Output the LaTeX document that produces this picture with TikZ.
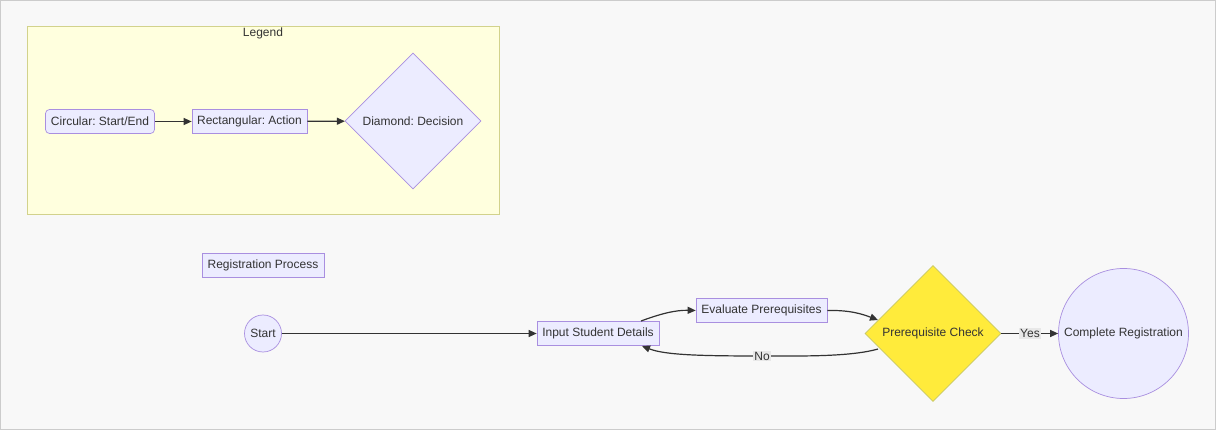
\documentclass[tikz,border=0pt]{standalone}
\usepackage{fontspec}
\setmainfont{Liberation Sans}
\frenchspacing
\usetikzlibrary{shapes.geometric,arrows.meta}
\definecolor{nodefill}{HTML}{ECECFF}
\definecolor{nodeline}{HTML}{A98FE0}
\definecolor{edgecol}{HTML}{333333}
\definecolor{legfill}{HTML}{FFFFDE}
\definecolor{legline}{HTML}{D2D28C}
\definecolor{bgfill}{HTML}{F8F8F8}
\definecolor{bgline}{HTML}{CCCCCC}
\definecolor{decfill}{HTML}{FFEB3B}
\definecolor{decline}{HTML}{C8C864}
\definecolor{lblbg}{HTML}{E8E8E8}
\definecolor{txt}{HTML}{333333}
\tikzset{
  x=1pt,y=-1pt,
  base/.style={font=\fontsize{12}{14}\selectfont, text=txt, draw=nodeline, fill=nodefill, line width=0.7pt, inner sep=0pt},
  rectbox/.style={base, rectangle, minimum height=24pt},
  roundbox/.style={base, rectangle, rounded corners=4pt, minimum height=24pt},
  circbox/.style={base, circle},
  diabox/.style={base, diamond, aspect=1},
  conn/.style={draw=edgecol, line width=1.2pt, -{Triangle[length=8pt,width=7pt]}},
  lbl/.style={font=\fontsize{12}{14}\selectfont, text=txt, fill=lblbg, inner sep=1pt}
}
\begin{document}
\begin{tikzpicture}
\useasboundingbox (0,0) rectangle (1216,430);
\fill[bgfill, draw=bgline, line width=0.8pt] (0.5,0.5) rectangle (1215.5,429.5);
% legend
\draw[fill=legfill, draw=legline, line width=1pt] (27,27) rectangle (499,215);
\node[font=\fontsize{12}{14}\selectfont, text=txt] (legtitle) at (263,33) {Legend};
\node[roundbox, minimum width=109pt] (l1) at (100,121.5) {Circular: Start/End};
\node[rectbox, minimum width=115pt] (l2) at (249.5,121.5) {Rectangular: Action};
\node[diabox, minimum width=136pt, minimum height=136pt] (l3) at (413,121) {Diamond: Decision};
\draw[conn] (l1) -- (l2);
\draw[conn] (l2) -- (l3);
% main
\node[rectbox, minimum width=122pt] (rp) at (263,265.5) {Registration Process};
\node[circbox, minimum size=37pt] (start) at (263,333.5) {Start};
\node[rectbox, minimum width=122pt] (input) at (598,333.5) {Input Student Details};
\node[rectbox, minimum width=131pt] (eval) at (761.5,310.5) {Evaluate Prerequisites};
\node[diabox, fill=decfill, draw=decline, minimum width=136pt, minimum height=136pt] (check) at (933,333.5) {Prerequisite Check};
\node[circbox, minimum size=130pt] (done) at (1123.5,333.5) {Complete Registration};
\draw[conn] (start) -- (input);
\draw[conn] (641,321) .. controls (660,314) and (675,310) .. (eval.west);
\draw[conn] (eval.east) .. controls (850,310) and (862,314) .. (878,320);
\coordinate (noend) at (642,346);
\draw[conn] (878,349) .. controls (850,357) and (800,356) .. (762,356)
  .. controls (700,356) and (665,355) .. (noend);
\node[lbl] (nolbl) at (762,356) {No};
\draw[conn] (check.east) -- (done.west);
\node[lbl] (yeslbl) at (1030,333.5) {Yes};
\end{tikzpicture}
\end{document}
